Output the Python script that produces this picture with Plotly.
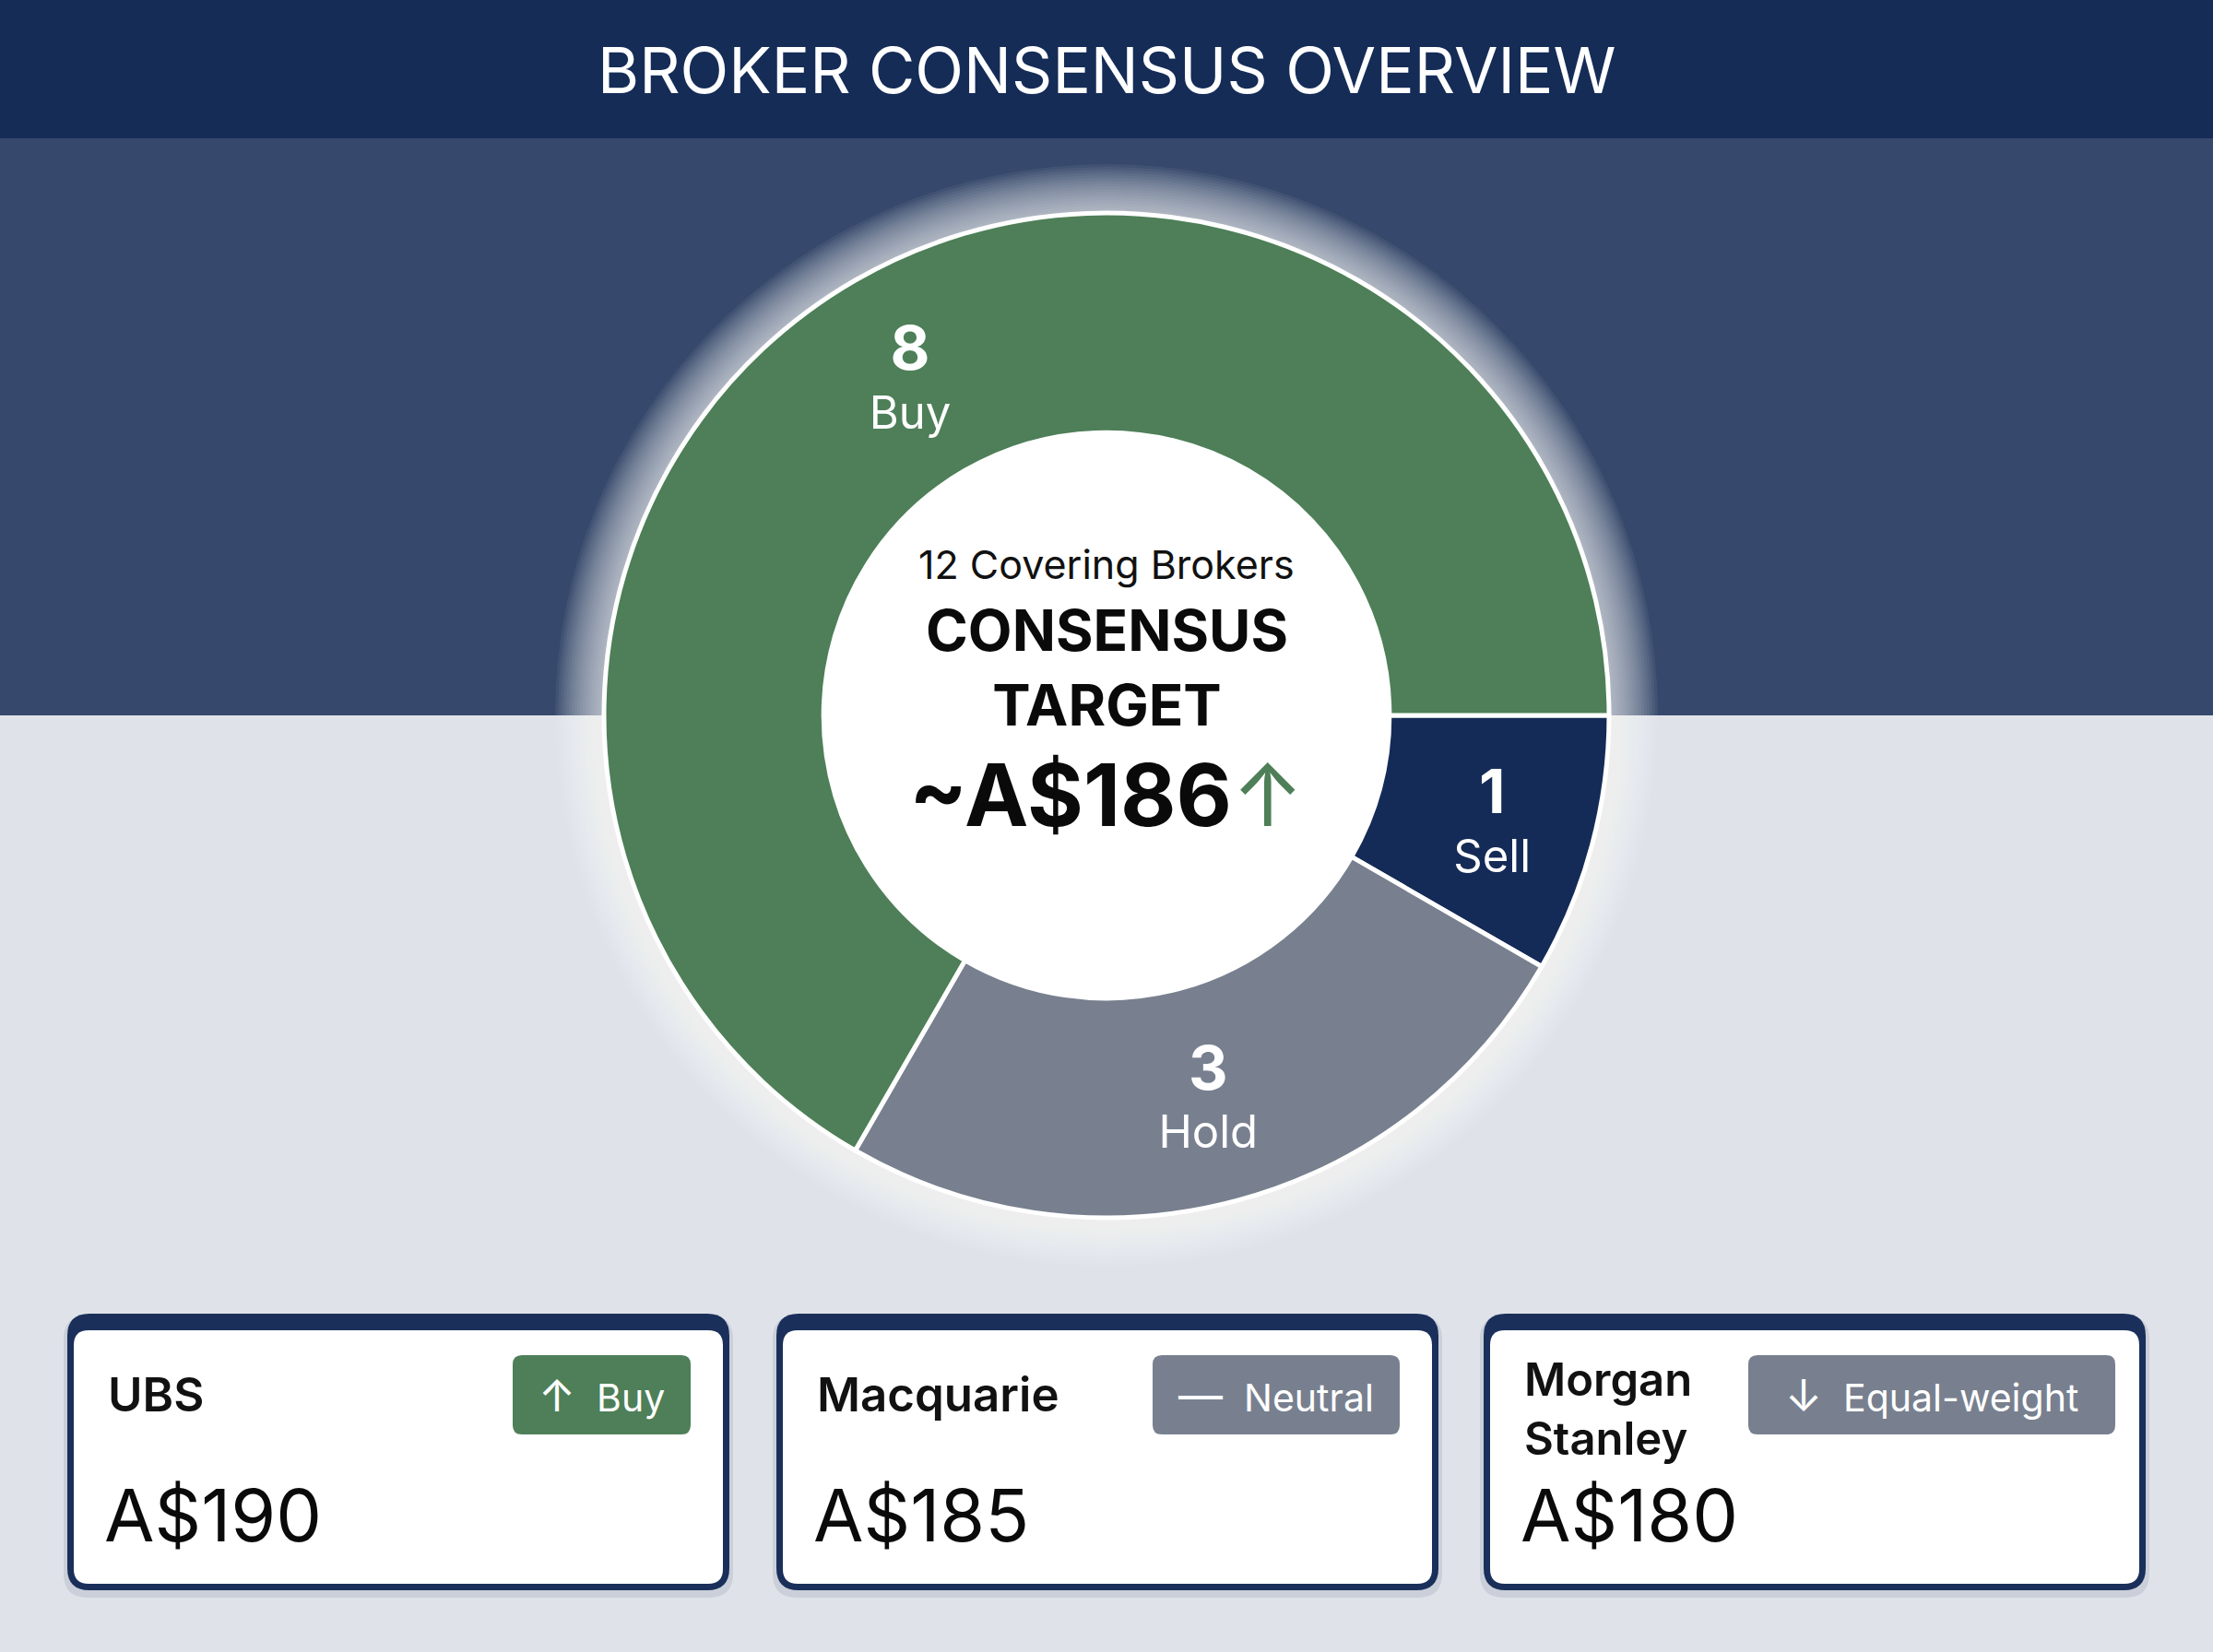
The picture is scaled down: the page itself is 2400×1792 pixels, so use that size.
import plotly.graph_objects as go
import numpy as np

# ---------------- data ----------------
title_text = "BROKER CONSENSUS OVERVIEW"
rating_labels = ["Sell", "Hold", "Buy"]
rating_counts = [1, 3, 8]
rating_colors = ["#152b57", "#78808f", "#4e7f58"]
covering_brokers = 12
consensus_target = 186

broker_names = ["UBS", "Macquarie", "Morgan<br>Stanley"]
broker_targets = [190, 185, 180]
broker_ratings = ["Buy", "Neutral", "Equal-weight"]
broker_icons = ["↑", "—", "↓"]
badge_colors = ["#4e7f58", "#78808f", "#78808f"]

# ---------------- layout constants ----------------
W, H = 2400, 1792
FONT = "Inter"
CX, CY, R_OUT = 1200, 776, 545
HOLE = 0.563

shapes = []
annotations = []

def rrect(x0, y0, x1, y1, r):
    return (f"M{x0+r},{y0} L{x1-r},{y0} Q{x1},{y0} {x1},{y0+r} "
            f"L{x1},{y1-r} Q{x1},{y1} {x1-r},{y1} L{x0+r},{y1} "
            f"Q{x0},{y1} {x0},{y1-r} L{x0},{y0+r} Q{x0},{y0} {x0+r},{y0} Z")

# backgrounds
shapes.append(dict(type="rect", xref="x", yref="y", x0=0, x1=W, y0=0, y1=H,
                   fillcolor="#dfe2e9", line_width=0, layer="below"))
shapes.append(dict(type="rect", xref="x", yref="y", x0=0, x1=W, y0=150, y1=CY,
                   fillcolor="#36486b", line_width=0, layer="below"))
shapes.append(dict(type="rect", xref="x", yref="y", x0=0, x1=W, y0=0, y1=150,
                   fillcolor="#152c57", line_width=0, layer="below"))

# glow around donut
for k in range(18):
    r = R_OUT + 2 + k * 3
    shapes.append(dict(type="circle", xref="x", yref="y", x0=CX - r, x1=CX + r,
                       y0=CY - r, y1=CY + r, fillcolor="white", opacity=0.055,
                       line_width=0, layer="below"))
# white hole
rh = R_OUT * HOLE + 2
shapes.append(dict(type="circle", xref="x", yref="y", x0=CX - rh, x1=CX + rh,
                   y0=CY - rh, y1=CY + rh, fillcolor="white",
                   line_width=0, layer="below"))

# title
annotations.append(dict(x=W / 2, y=76, xref="x", yref="y", text=title_text,
                        showarrow=False, font=dict(family=FONT, size=69, color="white"),
                        xanchor="center", yanchor="middle"))

# centre text
annotations.append(dict(x=CX, y=612, xref="x", yref="y",
                        text=f"{covering_brokers} Covering Brokers", showarrow=False,
                        font=dict(family=FONT, size=43, color="#111111"),
                        xanchor="center", yanchor="middle"))
annotations.append(dict(x=CX, y=724, xref="x", yref="y", text="<b>CONSENSUS<br>TARGET</b>",
                        showarrow=False,
                        font=dict(family=FONT, size=62, color="#0a0a0a", weight=800),
                        xanchor="center", yanchor="middle"))
annotations.append(dict(x=CX, y=862, xref="x", yref="y",
                        text=f"<b>~A${consensus_target}</b><span style='color:#4e7f58;font-weight:normal'>↑</span>",
                        showarrow=False,
                        font=dict(family=FONT, size=93, color="#0a0a0a", weight=800),
                        xanchor="center", yanchor="middle"))

# cards
card_x0 = [73, 842, 1609]
card_w = 718
cy0, cy1 = 1425, 1725
badge_w = [193, 268, 398]
badge_gap = [42, 42, 33]
for i in range(len(broker_names)):
    x0 = card_x0[i]
    x1 = x0 + card_w
    shapes.append(dict(type="path", xref="x", yref="y",
                       path=rrect(x0 - 4, cy0 + 2, x1 + 4, cy1 + 8, 26),
                       fillcolor="rgba(20,40,80,0.10)", line_width=0, layer="below"))
    shapes.append(dict(type="path", xref="x", yref="y", path=rrect(x0, cy0, x1, cy1, 24),
                       fillcolor="#1a2f5a", line_width=0, layer="below"))
    shapes.append(dict(type="path", xref="x", yref="y",
                       path=rrect(x0 + 7, cy0 + 18, x1 - 7, cy1 - 7, 16),
                       fillcolor="white", line_width=0, layer="below"))
    bx1 = x1 - badge_gap[i]
    bx0 = bx1 - badge_w[i]
    shapes.append(dict(type="path", xref="x", yref="y", path=rrect(bx0, 1470, bx1, 1556, 10),
                       fillcolor=badge_colors[i], line_width=0, layer="below"))
    annotations.append(dict(x=(bx0 + bx1) / 2, y=1513, xref="x", yref="y",
                            text=f"<span style='font-size:48px'>{broker_icons[i]}</span>  {broker_ratings[i]}",
                            showarrow=False,
                            font=dict(family=FONT, size=41, color="white"),
                            xanchor="center", yanchor="middle"))
    two_line = "<br>" in broker_names[i]
    annotations.append(dict(x=x0 + 42, y=1512 if not two_line else 1528, xref="x", yref="y",
                            text=broker_names[i], showarrow=False, align="left",
                            font=dict(family=FONT, size=51 if not two_line else 49,
                                      color="#111111", weight=600),
                            xanchor="left", yanchor="middle"))
    annotations.append(dict(x=x0 + 38, y=1643, xref="x", yref="y",
                            text=f"A${broker_targets[i]}", showarrow=False,
                            font=dict(family=FONT, size=79, color="#0a0a0a"),
                            xanchor="left", yanchor="middle"))

fig = go.Figure()
fig.add_trace(go.Pie(
    labels=rating_labels, values=rating_counts, sort=False, direction="clockwise",
    rotation=90, hole=HOLE,
    marker=dict(colors=rating_colors, line=dict(color="white", width=5)),
    texttemplate="<span style='font-size:66px'><b>%{value}</b></span><br>%{label}",
    textposition="inside", insidetextorientation="horizontal",
    insidetextfont=dict(family=FONT, size=49, color="white"),
    domain=dict(x=[(CX - R_OUT) / W, (CX + R_OUT) / W],
                y=[(H - CY - R_OUT) / H, (H - CY + R_OUT) / H]),
    showlegend=False, hoverinfo="skip",
))

fig.update_layout(
    width=W, height=H, margin=dict(l=0, r=0, t=0, b=0),
    paper_bgcolor="#dfe2e9", plot_bgcolor="rgba(0,0,0,0)",
    xaxis=dict(range=[0, W], visible=False, domain=[0, 1], fixedrange=True),
    yaxis=dict(range=[H, 0], visible=False, domain=[0, 1], fixedrange=True),
    shapes=shapes, annotations=annotations, showlegend=False,
)

fig.write_html("out.html", config={"displayModeBar": False},
               post_script="document.body.style.margin='0';")
